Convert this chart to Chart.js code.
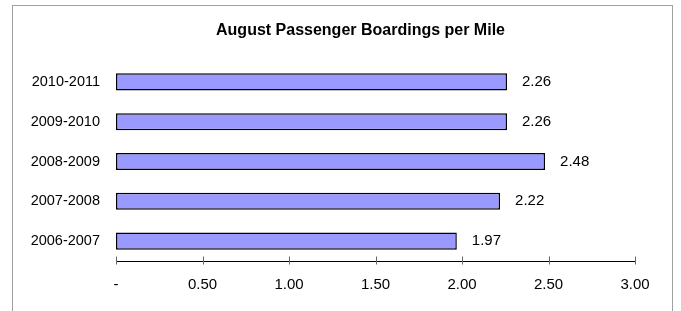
<!DOCTYPE html>
<html>
<head>
<meta charset="utf-8">
<script src="https://cdn.jsdelivr.net/npm/chart.js@4"></script>
<style>
  html, body { margin: 0; padding: 0; background: #fff; }
  #wrap { position: relative; width: 681px; height: 311px; overflow: hidden; }
  #frame { position: absolute; left: 12px; top: 5px; width: 659px; height: 330px; border: 1px solid #a0a0a0; }
  canvas { position: absolute; left: 0; top: 0; }
</style>
</head>
<body>
<div id="wrap">
  <div id="frame"></div>
  <canvas id="chart" width="681" height="311"></canvas>
</div>
<script>
const seasons = ['2010-2011', '2009-2010', '2008-2009', '2007-2008', '2006-2007'];
const boardingsPerMile = [2.26, 2.26, 2.48, 2.22, 1.97];
const axisMax = 3;
const axisStep = 0.5;
const chartTitle = 'August Passenger Boardings per Mile';

const fontFamily = "'Liberation Sans', Arial, sans-serif";

// title sits a bit left of the plot centre, like the original sheet
const titlePlugin = {
    id: 'sheetTitle',
    afterDraw(chart) {
        const ctx = chart.ctx;
        const area = chart.chartArea;
        ctx.save();
        ctx.font = 'bold 16px ' + fontFamily;
        ctx.fillStyle = '#000';
        ctx.textAlign = 'center';
        ctx.textBaseline = 'middle';
        ctx.fillText(chartTitle, (area.left + area.right) / 2 - 15, 31);
        ctx.restore();
    }
};

// value labels to the right of each bar
const valueLabels = {
    id: 'valueLabels',
    afterDatasetsDraw(chart) {
        const ctx = chart.ctx;
        const meta = chart.getDatasetMeta(0);
        ctx.save();
        ctx.font = '15px ' + fontFamily;
        ctx.fillStyle = '#000';
        ctx.textAlign = 'left';
        ctx.textBaseline = 'middle';
        meta.data.forEach((bar, i) => {
            ctx.fillText(boardingsPerMile[i].toFixed(2), bar.x + 15, bar.y);
        });
        ctx.restore();
    }
};

// tick marks that cross the x axis line
const crossTicks = {
    id: 'crossTicks',
    afterDraw(chart) {
        const ctx = chart.ctx;
        const xs = chart.scales.x;
        const y = Math.round(chart.chartArea.bottom) - 0.5;
        ctx.save();
        ctx.strokeStyle = '#666';
        ctx.lineWidth = 1;
        xs.ticks.forEach((t, i) => {
            const x = Math.round(xs.getPixelForTick(i)) + 0.5;
            ctx.beginPath();
            ctx.moveTo(x, y - 4);
            ctx.lineTo(x, y + 4);
            ctx.stroke();
        });
        ctx.restore();
    }
};

new Chart(document.getElementById('chart'), {
    type: 'bar',
    data: {
        labels: seasons,
        datasets: [{
            data: boardingsPerMile,
            backgroundColor: '#9999ff',
            borderColor: '#000',
            borderWidth: 1.5,
            borderSkipped: false,
            barPercentage: 0.43,
            categoryPercentage: 1
        }]
    },
    options: {
        indexAxis: 'y',
        responsive: false,
        animation: false,
        layout: { padding: { left: 12, right: 46, top: 62, bottom: 0 } },
        plugins: {
            legend: { display: false },
            tooltip: { enabled: false },
            title: { display: false }
        },
        scales: {
            x: {
                min: 0,
                max: axisMax,
                grid: { display: false, drawTicks: false },
                border: { display: true, color: '#000', width: 1 },
                ticks: {
                    stepSize: axisStep,
                    padding: 15,
                    color: '#000',
                    font: { family: fontFamily, size: 15 },
                    callback: v => v === 0 ? '-' : v.toFixed(2)
                },
                afterFit(scale) { scale.height = 50; }
            },
            y: {
                grid: { display: false, drawTicks: false },
                border: { display: false },
                ticks: {
                    padding: 16,
                    color: '#000',
                    font: { family: fontFamily, size: 14.5 }
                },
                afterFit(scale) { scale.width = 104; }
            }
        }
    },
    plugins: [valueLabels, crossTicks, titlePlugin]
});
</script>
</body>
</html>
